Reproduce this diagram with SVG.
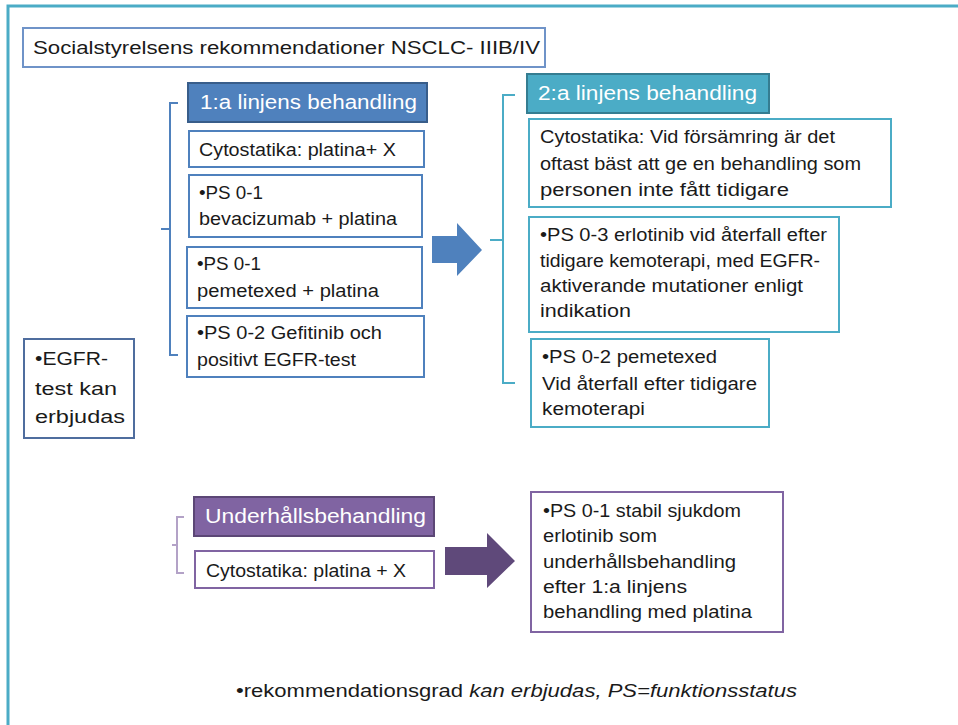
<svg xmlns="http://www.w3.org/2000/svg" width="958" height="725" viewBox="0 0 958 725">
<style>
text{font-family:"Liberation Sans",Arial,sans-serif;fill:#1a1a1a;font-size:17.5px}
.hd{fill:#fff;font-size:20px}
.b1{fill:#fff;stroke:#4F81BD;stroke-width:2}
.b2{fill:#fff;stroke:#4BACC6;stroke-width:2}
.b3{fill:#fff;stroke:#8064A2;stroke-width:2}
.br{fill:none;stroke-width:2}
</style>
<rect x="0" y="0" width="958" height="725" fill="#fff"/>
<g id="frame">
<path d="M8,725 V6 H958" fill="none" stroke="#4BACC6" stroke-width="3"/>
</g>
<g id="title">
<rect x="23" y="28" width="522" height="39" fill="#fff" stroke="#6F93C8" stroke-width="2"/>
<text x="33" y="54" font-size="18.5" textLength="507" lengthAdjust="spacingAndGlyphs">Socialstyrelsens rekommendationer NSCLC- IIIB/IV</text>
</g>
<g id="connectors">
<path class="br" stroke="#4F81BD" d="M178,103 H170 V355 H178 M170,229 H161"/>
<path class="br" stroke="#4BACC6" d="M515,95 H503 V383 H515 M503,240 H490"/>
<path class="br" stroke="#B3A2C7" d="M184,517 H177 V573 H184 M177,545 H172"/>
<path d="M432,236 H457 V223 L482,250 L457,276 V263 H432 Z" fill="#4F81BD"/>
<path d="M445,547 H487 V533 L515,561 L487,588 V575 H445 Z" fill="#5F497A"/>
</g>
<g id="h1">
<rect x="188" y="83" width="239" height="39" fill="#4F81BD" stroke="#385D8A" stroke-width="2"/>
<text class="hd" x="200" y="109" textLength="217" lengthAdjust="spacingAndGlyphs">1:a linjens behandling</text>
</g>
<g id="n1a">
<rect class="b1" x="189" y="131" width="235" height="36"/>
<text x="199" y="156" textLength="197" lengthAdjust="spacingAndGlyphs">Cytostatika: platina+ X</text>
</g>
<g id="n1b">
<rect class="b1" x="189" y="175" width="233" height="62"/>
<text x="199" y="199" textLength="64" lengthAdjust="spacingAndGlyphs">•PS 0-1</text>
<text x="199" y="225" textLength="198" lengthAdjust="spacingAndGlyphs">bevacizumab + platina</text>
</g>
<g id="n1c">
<rect class="b1" x="187" y="247" width="235" height="61"/>
<text x="197" y="270" textLength="64" lengthAdjust="spacingAndGlyphs">•PS 0-1</text>
<text x="197" y="297" textLength="182" lengthAdjust="spacingAndGlyphs">pemetexed + platina</text>
</g>
<g id="n1d">
<rect class="b1" x="187" y="316" width="237" height="61"/>
<text x="197" y="339" textLength="185" lengthAdjust="spacingAndGlyphs">•PS 0-2 Gefitinib och</text>
<text x="197" y="366" textLength="159" lengthAdjust="spacingAndGlyphs">positivt EGFR-test</text>
</g>
<g id="egfr">
<rect x="24" y="339" width="110" height="99" fill="#fff" stroke="#4F6D9E" stroke-width="2"/>
<text x="35" y="365" font-size="21" textLength="73" lengthAdjust="spacingAndGlyphs">•EGFR-</text>
<text x="35" y="395" font-size="21" textLength="82" lengthAdjust="spacingAndGlyphs">test kan</text>
<text x="35" y="423" font-size="21" textLength="90" lengthAdjust="spacingAndGlyphs">erbjudas</text>
</g>
<g id="h2">
<rect x="527" y="74" width="242" height="39" fill="#4BACC6" stroke="#357D91" stroke-width="2"/>
<text class="hd" x="538" y="100" textLength="219" lengthAdjust="spacingAndGlyphs">2:a linjens behandling</text>
</g>
<g id="n2a">
<rect class="b2" x="529" y="119" width="362" height="88"/>
<text x="540" y="143" textLength="295" lengthAdjust="spacingAndGlyphs">Cytostatika: Vid försämring är det</text>
<text x="540" y="170" textLength="321" lengthAdjust="spacingAndGlyphs">oftast bäst att ge en behandling som</text>
<text x="540" y="196" textLength="249" lengthAdjust="spacingAndGlyphs">personen inte fått tidigare</text>
</g>
<g id="n2b">
<rect class="b2" x="529" y="217" width="310" height="115"/>
<text x="540" y="241" textLength="287" lengthAdjust="spacingAndGlyphs">•PS 0-3 erlotinib vid återfall efter</text>
<text x="540" y="267" textLength="280" lengthAdjust="spacingAndGlyphs">tidigare kemoterapi, med EGFR-</text>
<text x="540" y="292" textLength="263" lengthAdjust="spacingAndGlyphs">aktiverande mutationer enligt</text>
<text x="540" y="317" textLength="91" lengthAdjust="spacingAndGlyphs">indikation</text>
</g>
<g id="n2c">
<rect class="b2" x="531" y="339" width="238" height="88"/>
<text x="542" y="363" textLength="175" lengthAdjust="spacingAndGlyphs">•PS 0-2 pemetexed</text>
<text x="542" y="390" textLength="215" lengthAdjust="spacingAndGlyphs">Vid återfall efter tidigare</text>
<text x="542" y="415" textLength="103" lengthAdjust="spacingAndGlyphs">kemoterapi</text>
</g>
<g id="h3">
<rect x="194" y="497" width="240" height="39" fill="#8064A2" stroke="#5C4776" stroke-width="2"/>
<text class="hd" x="205" y="523" textLength="221" lengthAdjust="spacingAndGlyphs">Underhållsbehandling</text>
</g>
<g id="n3a">
<rect class="b3" x="195" y="551" width="239" height="37"/>
<text x="206" y="577" textLength="200" lengthAdjust="spacingAndGlyphs">Cytostatika: platina + X</text>
</g>
<g id="n3b">
<rect class="b3" x="531" y="492" width="252" height="140"/>
<text x="543" y="517" textLength="198" lengthAdjust="spacingAndGlyphs">•PS 0-1 stabil sjukdom</text>
<text x="543" y="542" textLength="114" lengthAdjust="spacingAndGlyphs">erlotinib som</text>
<text x="543" y="568" textLength="193" lengthAdjust="spacingAndGlyphs">underhållsbehandling</text>
<text x="543" y="593" textLength="144" lengthAdjust="spacingAndGlyphs">efter 1:a linjens</text>
<text x="543" y="618" textLength="209" lengthAdjust="spacingAndGlyphs">behandling med platina</text>
</g>
<g id="footnote">
<text x="236" y="697" textLength="561" lengthAdjust="spacingAndGlyphs">•rekommendationsgrad <tspan font-style="italic">kan erbjudas, PS=funktionsstatus</tspan></text>
</g>
</svg>
